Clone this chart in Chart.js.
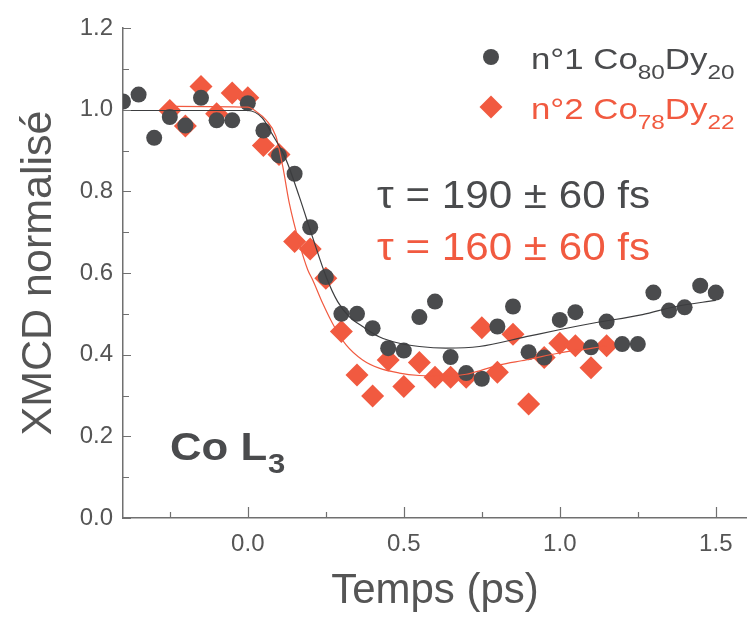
<!DOCTYPE html>
<html>
<head>
<meta charset="utf-8">
<script src="https://cdn.jsdelivr.net/npm/chart.js@4"></script>
<style>
  html, body { margin: 0; padding: 0; background: #fff; }
  #wrap { width: 747px; height: 617px; position: relative; }
</style>
</head>
<body>
<div id="wrap"><canvas id="c" width="747" height="617"></canvas></div>
<script>
// ---- data ----
const s1Time = [-0.40,-0.35,-0.30,-0.25,-0.20,-0.15,-0.10,-0.05,0.00,0.05,0.10,0.15,0.20,0.25,0.30,0.35,0.40,0.45,0.50,0.55,0.60,0.65,0.70,0.75,0.80,0.85,0.90,0.95,1.00,1.05,1.10,1.15,1.20,1.25,1.30,1.35,1.40,1.45,1.50];
const s1Xmcd = [1.020,1.037,0.931,0.982,0.961,1.029,0.974,0.974,1.016,0.949,0.888,0.843,0.712,0.590,0.500,0.500,0.465,0.416,0.410,0.492,0.530,0.394,0.355,0.341,0.469,0.518,0.406,0.393,0.485,0.504,0.418,0.481,0.426,0.426,0.552,0.508,0.516,0.569,0.552];

const s2Time = [-0.25,-0.20,-0.15,-0.10,-0.05,0.00,0.05,0.10,0.15,0.20,0.25,0.30,0.35,0.40,0.45,0.50,0.55,0.60,0.65,0.70,0.75,0.80,0.85,0.90,0.95,1.00,1.05,1.10,1.15];
const s2Xmcd = [0.998,0.960,1.057,0.990,1.041,1.029,0.912,0.890,0.677,0.659,0.587,0.457,0.350,0.299,0.387,0.322,0.381,0.345,0.345,0.345,0.466,0.357,0.450,0.279,0.393,0.428,0.422,0.368,0.422];

// fit curves, points
const fit1Time = [-0.40,0.00,0.046,0.079,0.123,0.165,0.207,0.251,0.288,0.325,0.368,0.421,0.486,0.550,0.635,0.742,0.892,0.998,1.105,1.265,1.372,1.50];
const fit1Xmcd = [0.998,0.998,0.980,0.939,0.877,0.787,0.689,0.591,0.530,0.493,0.469,0.444,0.428,0.420,0.416,0.420,0.444,0.461,0.477,0.498,0.518,0.533];
const fit2Time = [-0.25,0.00,0.026,0.058,0.090,0.112,0.133,0.165,0.192,0.208,0.240,0.277,0.315,0.368,0.421,0.486,0.550,0.635,0.700,0.750,0.806,0.892,0.998,1.105,1.15];
const fit2Xmcd = [1.008,1.006,0.996,0.975,0.935,0.861,0.771,0.673,0.608,0.583,0.526,0.469,0.424,0.387,0.367,0.355,0.349,0.347,0.352,0.362,0.375,0.387,0.404,0.416,0.422];

const xMajorTicks = [0.0, 0.5, 1.0, 1.5];
const xMinorTicks = [-0.25, 0.25, 0.75, 1.25];
const yMajorTicks = [0.0, 0.2, 0.4, 0.6, 0.8, 1.0, 1.2];
const yMinorTicks = [0.1, 0.3, 0.5, 0.7, 0.9, 1.1];

const seriesNames = ['n°1 Co', 'n°2 Co'];
const seriesSub1 = ['80', '78'];
const seriesMid = ['Dy', 'Dy'];
const seriesSub2 = ['20', '22'];
const tauTexts = ['τ = 190 ± 60 fs', 'τ = 160 ± 60 fs'];
const edgeLabel = ['Co L', '3'];

const GREY = '#4a4b4d';
const RED = '#f15a40';
const AXIS = '#707070';
const FONT = '"Liberation Sans", Arial, sans-serif';

const pts = (xs, ys) => xs.map((x, i) => ({x, y: ys[i]}));

const tickPlugin = {
  id: 'innerTicks',
  afterDatasetsDraw(chart) {
    const {ctx, chartArea: a, scales: {x, y}} = chart;
    ctx.save();
    ctx.strokeStyle = AXIS;
    ctx.lineWidth = 1.2;
    ctx.beginPath();
    xMajorTicks.forEach(v => { const p = Math.round(x.getPixelForValue(v)) + 0.5; ctx.moveTo(p, a.bottom); ctx.lineTo(p, a.bottom - 11); });
    xMinorTicks.forEach(v => { const p = Math.round(x.getPixelForValue(v)) + 0.5; ctx.moveTo(p, a.bottom); ctx.lineTo(p, a.bottom - 6); });
    yMajorTicks.forEach(v => { const p = Math.round(y.getPixelForValue(v)) + 0.5; ctx.moveTo(a.left, p); ctx.lineTo(a.left + 8, p); });
    yMinorTicks.forEach(v => { const p = Math.round(y.getPixelForValue(v)) + 0.5; ctx.moveTo(a.left, p); ctx.lineTo(a.left + 6, p); });
    ctx.stroke();
    ctx.restore();
  }
};

function txt(ctx, s, x, y, sx) {
  ctx.save();
  ctx.translate(x, y);
  ctx.scale(sx, 1);
  ctx.fillText(s, 0, 0);
  ctx.restore();
  return ctx.measureText(s).width * sx;
}

const textPlugin = {
  id: 'texts',
  afterDraw(chart) {
    const {ctx} = chart;
    ctx.save();
    ctx.textBaseline = 'alphabetic';
    ctx.textAlign = 'left';
    // legend
    const colors = [GREY, RED];
    const styles = ['circle', 'rectRot'];
    const radii = [8, 11.5];
    const rowBase = [69, 119];
    const markX = 491, textX = 531, SX = 1.16;
    for (let i = 0; i < 2; i++) {
      ctx.fillStyle = colors[i];
      ctx.strokeStyle = colors[i];
      Chart.helpers.drawPoint(ctx, {pointStyle: styles[i], radius: radii[i], borderWidth: 0}, markX, rowBase[i] - 12);
      ctx.fillStyle = colors[i];
      let cx = textX;
      ctx.font = '30px ' + FONT;
      cx += txt(ctx, seriesNames[i], cx, rowBase[i], SX);
      ctx.font = '21px ' + FONT;
      cx += txt(ctx, seriesSub1[i], cx, rowBase[i] + 10, SX);
      ctx.font = '30px ' + FONT;
      cx += txt(ctx, seriesMid[i], cx, rowBase[i], SX);
      ctx.font = '21px ' + FONT;
      txt(ctx, seriesSub2[i], cx, rowBase[i] + 10, SX);
    }
    // tau annotations
    ctx.font = '38px ' + FONT;
    ctx.fillStyle = GREY;
    txt(ctx, tauTexts[0], 377, 208, 1.11);
    ctx.fillStyle = RED;
    txt(ctx, tauTexts[1], 377, 260, 1.11);
    // Co L3
    ctx.fillStyle = GREY;
    ctx.font = 'bold 38px ' + FONT;
    const w = txt(ctx, edgeLabel[0], 170, 460, 1.15);
    ctx.font = 'bold 27px ' + FONT;
    txt(ctx, edgeLabel[1], 170 + w + 1, 473, 1.15);
    ctx.restore();
  }
};

new Chart(document.getElementById('c'), {
  type: 'scatter',
  data: {
    datasets: [
      { type: 'line', data: pts(fit1Time, fit1Xmcd), borderColor: '#3c3d3f', borderWidth: 1.2, pointRadius: 0, cubicInterpolationMode: 'monotone', fill: false },
      { type: 'line', data: pts(fit2Time, fit2Xmcd), borderColor: RED, borderWidth: 1.2, pointRadius: 0, cubicInterpolationMode: 'monotone', fill: false },
      { data: pts(s1Time, s1Xmcd), pointStyle: 'circle', pointRadius: 8, pointBorderWidth: 0, backgroundColor: GREY, borderColor: GREY },
      { data: pts(s2Time, s2Xmcd), pointStyle: 'rectRot', pointRadius: 11.5, pointBorderWidth: 0, backgroundColor: RED, borderColor: RED }
    ]
  },
  options: {
    responsive: false,
    animation: false,
    devicePixelRatio: 1,
    layout: { autoPadding: false, padding: { top: 28, right: 0, left: 0, bottom: 0 } },
    plugins: { legend: { display: false }, tooltip: { enabled: false } },
    scales: {
      x: {
        type: 'linear', min: -0.4, max: 1.6,
        grid: { display: false, drawTicks: false },
        border: { display: true, color: AXIS, width: 1.5 },
        afterBuildTicks: s => { s.ticks = xMajorTicks.map(v => ({value: v})); },
        afterFit: s => { s.height = 99; s.paddingLeft = 0; s.paddingRight = 0; },
        ticks: { padding: 12, color: '#555', font: { family: FONT, size: 24 }, callback: v => Number(v).toFixed(1), maxRotation: 0 },
        title: { display: true, text: 'Temps (ps)', color: '#555', font: { family: FONT, size: 42, lineHeight: 1 }, padding: { top: 0, bottom: 5 } }
      },
      y: {
        type: 'linear', min: 0, max: 1.2,
        grid: { display: false, drawTicks: false },
        border: { display: true, color: AXIS, width: 1.5 },
        afterBuildTicks: s => { s.ticks = yMajorTicks.map(v => ({value: v})); },
        afterFit: s => { s.width = 123; s.paddingTop = 0; s.paddingBottom = 0; },
        ticks: { padding: 10, color: '#555', font: { family: FONT, size: 24 }, callback: v => Number(v).toFixed(1) },
        title: { display: true, text: 'XMCD normalisé', color: '#555', font: { family: FONT, size: 43, lineHeight: 1 }, padding: { top: 18, bottom: 0 } }
      }
    }
  },
  plugins: [tickPlugin, textPlugin]
});
</script>
</body>
</html>
